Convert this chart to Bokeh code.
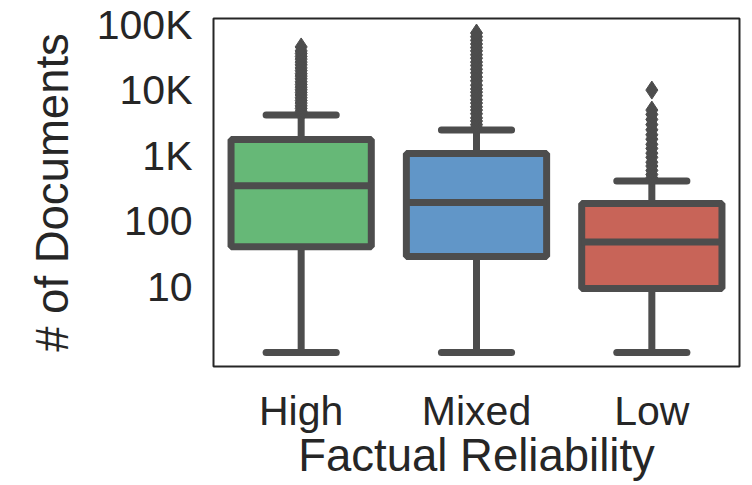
from bokeh.plotting import figure
from bokeh.models import FactorRange, Range1d, FixedTicker, ColumnDataSource
from bokeh.transform import dodge
from bokeh.embed import file_html
from bokeh.resources import INLINE

# ---- data ----
categories = ["High", "Mixed", "Low"]
box_colors = ["#66b877", "#6196c8", "#c86458"]
q1 = [41, 29, 9.5]
median = [349, 195, 48.6]
q3 = [1775, 1090, 187]
whisker_low = [1, 1, 1]
whisker_high = [4200, 2480, 412]

high_outliers = [4400, 4800, 5300, 5800, 6400, 7000, 7700, 8500, 9300, 10200,
                 11200, 12300, 13500, 15000, 16500, 18000, 20000, 22000, 24500,
                 27000, 30000, 33000, 36500, 40000, 46000]
mixed_outliers = [2700, 3000, 3400, 3800, 4400, 5000, 5600, 6400, 7200, 8300,
                  9400, 10500, 12000, 14000, 16000, 18500, 21000, 24000, 27000,
                  31000, 35000, 40000, 45000, 51000, 58000, 66000, 75000]
low_outliers = [460, 520, 600, 700, 800, 950, 1100, 1300, 1500, 1800, 2100,
                2500, 3000, 3600, 4300, 5000, 10100]

y_tick_values = [10, 100, 1000, 10000, 100000]
y_tick_labels = ["10", "100", "1K", "10K", "100K"]

x_label = "Factual Reliability"
y_label = "# of Documents"

# ---- styling ----
DARK = "#4d4d4d"
TEXT = "#262626"
FONT = "Liberation Sans"

box_src = ColumnDataSource(dict(
    cat=categories, color=box_colors, q1=q1, med=median, q3=q3,
    wlo=whisker_low, whi=whisker_high,
))

out_x = (["High"] * len(high_outliers) + ["Mixed"] * len(mixed_outliers)
         + ["Low"] * len(low_outliers))
out_y = high_outliers + mixed_outliers + low_outliers
out_src = ColumnDataSource(dict(x=out_x, y=out_y))

p = figure(
    x_range=FactorRange(*categories),
    y_range=Range1d(0.61, 125000),
    y_axis_type="log",
    width=752, height=485,
    output_backend="svg", toolbar_location=None,
    min_border_left=213, min_border_right=13,
    min_border_top=18, min_border_bottom=119,
    background_fill_color="white", border_fill_color="white",
)

# whiskers
p.segment(x0="cat", y0="q3", x1="cat", y1="whi", source=box_src,
          line_color=DARK, line_width=7)
p.segment(x0="cat", y0="q1", x1="cat", y1="wlo", source=box_src,
          line_color=DARK, line_width=7)
# caps
p.segment(x0=dodge("cat", -0.2, range=p.x_range), x1=dodge("cat", 0.2, range=p.x_range),
          y0="whi", y1="whi", source=box_src, line_color=DARK, line_width=7,
          line_cap="round")
p.segment(x0=dodge("cat", -0.2, range=p.x_range), x1=dodge("cat", 0.2, range=p.x_range),
          y0="wlo", y1="wlo", source=box_src, line_color=DARK, line_width=7,
          line_cap="round")
# boxes
p.vbar(x="cat", width=0.8, bottom="q1", top="q3", source=box_src,
       fill_color="color", line_color=DARK, line_width=7)
# medians
p.segment(x0=dodge("cat", -0.4, range=p.x_range), x1=dodge("cat", 0.4, range=p.x_range),
          y0="med", y1="med", source=box_src, line_color=DARK, line_width=7)
# outliers
p.scatter(x="x", y="y", source=out_src, marker="diamond", size=18,
          fill_color=DARK, line_color=DARK, line_width=1)

p.xgrid.visible = False
p.ygrid.visible = False
p.outline_line_color = TEXT
p.outline_line_width = 2
p.outline_line_alpha = 1

p.yaxis.ticker = FixedTicker(ticks=y_tick_values, minor_ticks=[])
p.yaxis.major_label_overrides = dict(zip(y_tick_values, y_tick_labels))

p.xaxis.axis_label = x_label
p.yaxis.axis_label = y_label

for ax in (p.xaxis, p.yaxis):
    ax.axis_line_color = None
    ax.major_tick_line_color = None
    ax.minor_tick_line_color = None
    ax.major_tick_out = 0
    ax.minor_tick_out = 0
    ax.major_label_standoff = 21
    ax.major_label_text_font = FONT
    ax.major_label_text_font_size = "41px"
    ax.major_label_text_color = TEXT
    ax.axis_label_text_font = FONT
    ax.axis_label_text_font_size = "45.5px"
    ax.axis_label_text_font_style = "normal"
    ax.axis_label_text_color = TEXT

p.xaxis.axis_label_standoff = -7
p.yaxis.axis_label_standoff = 16

open("out.html", "w").write(file_html(p, INLINE))
